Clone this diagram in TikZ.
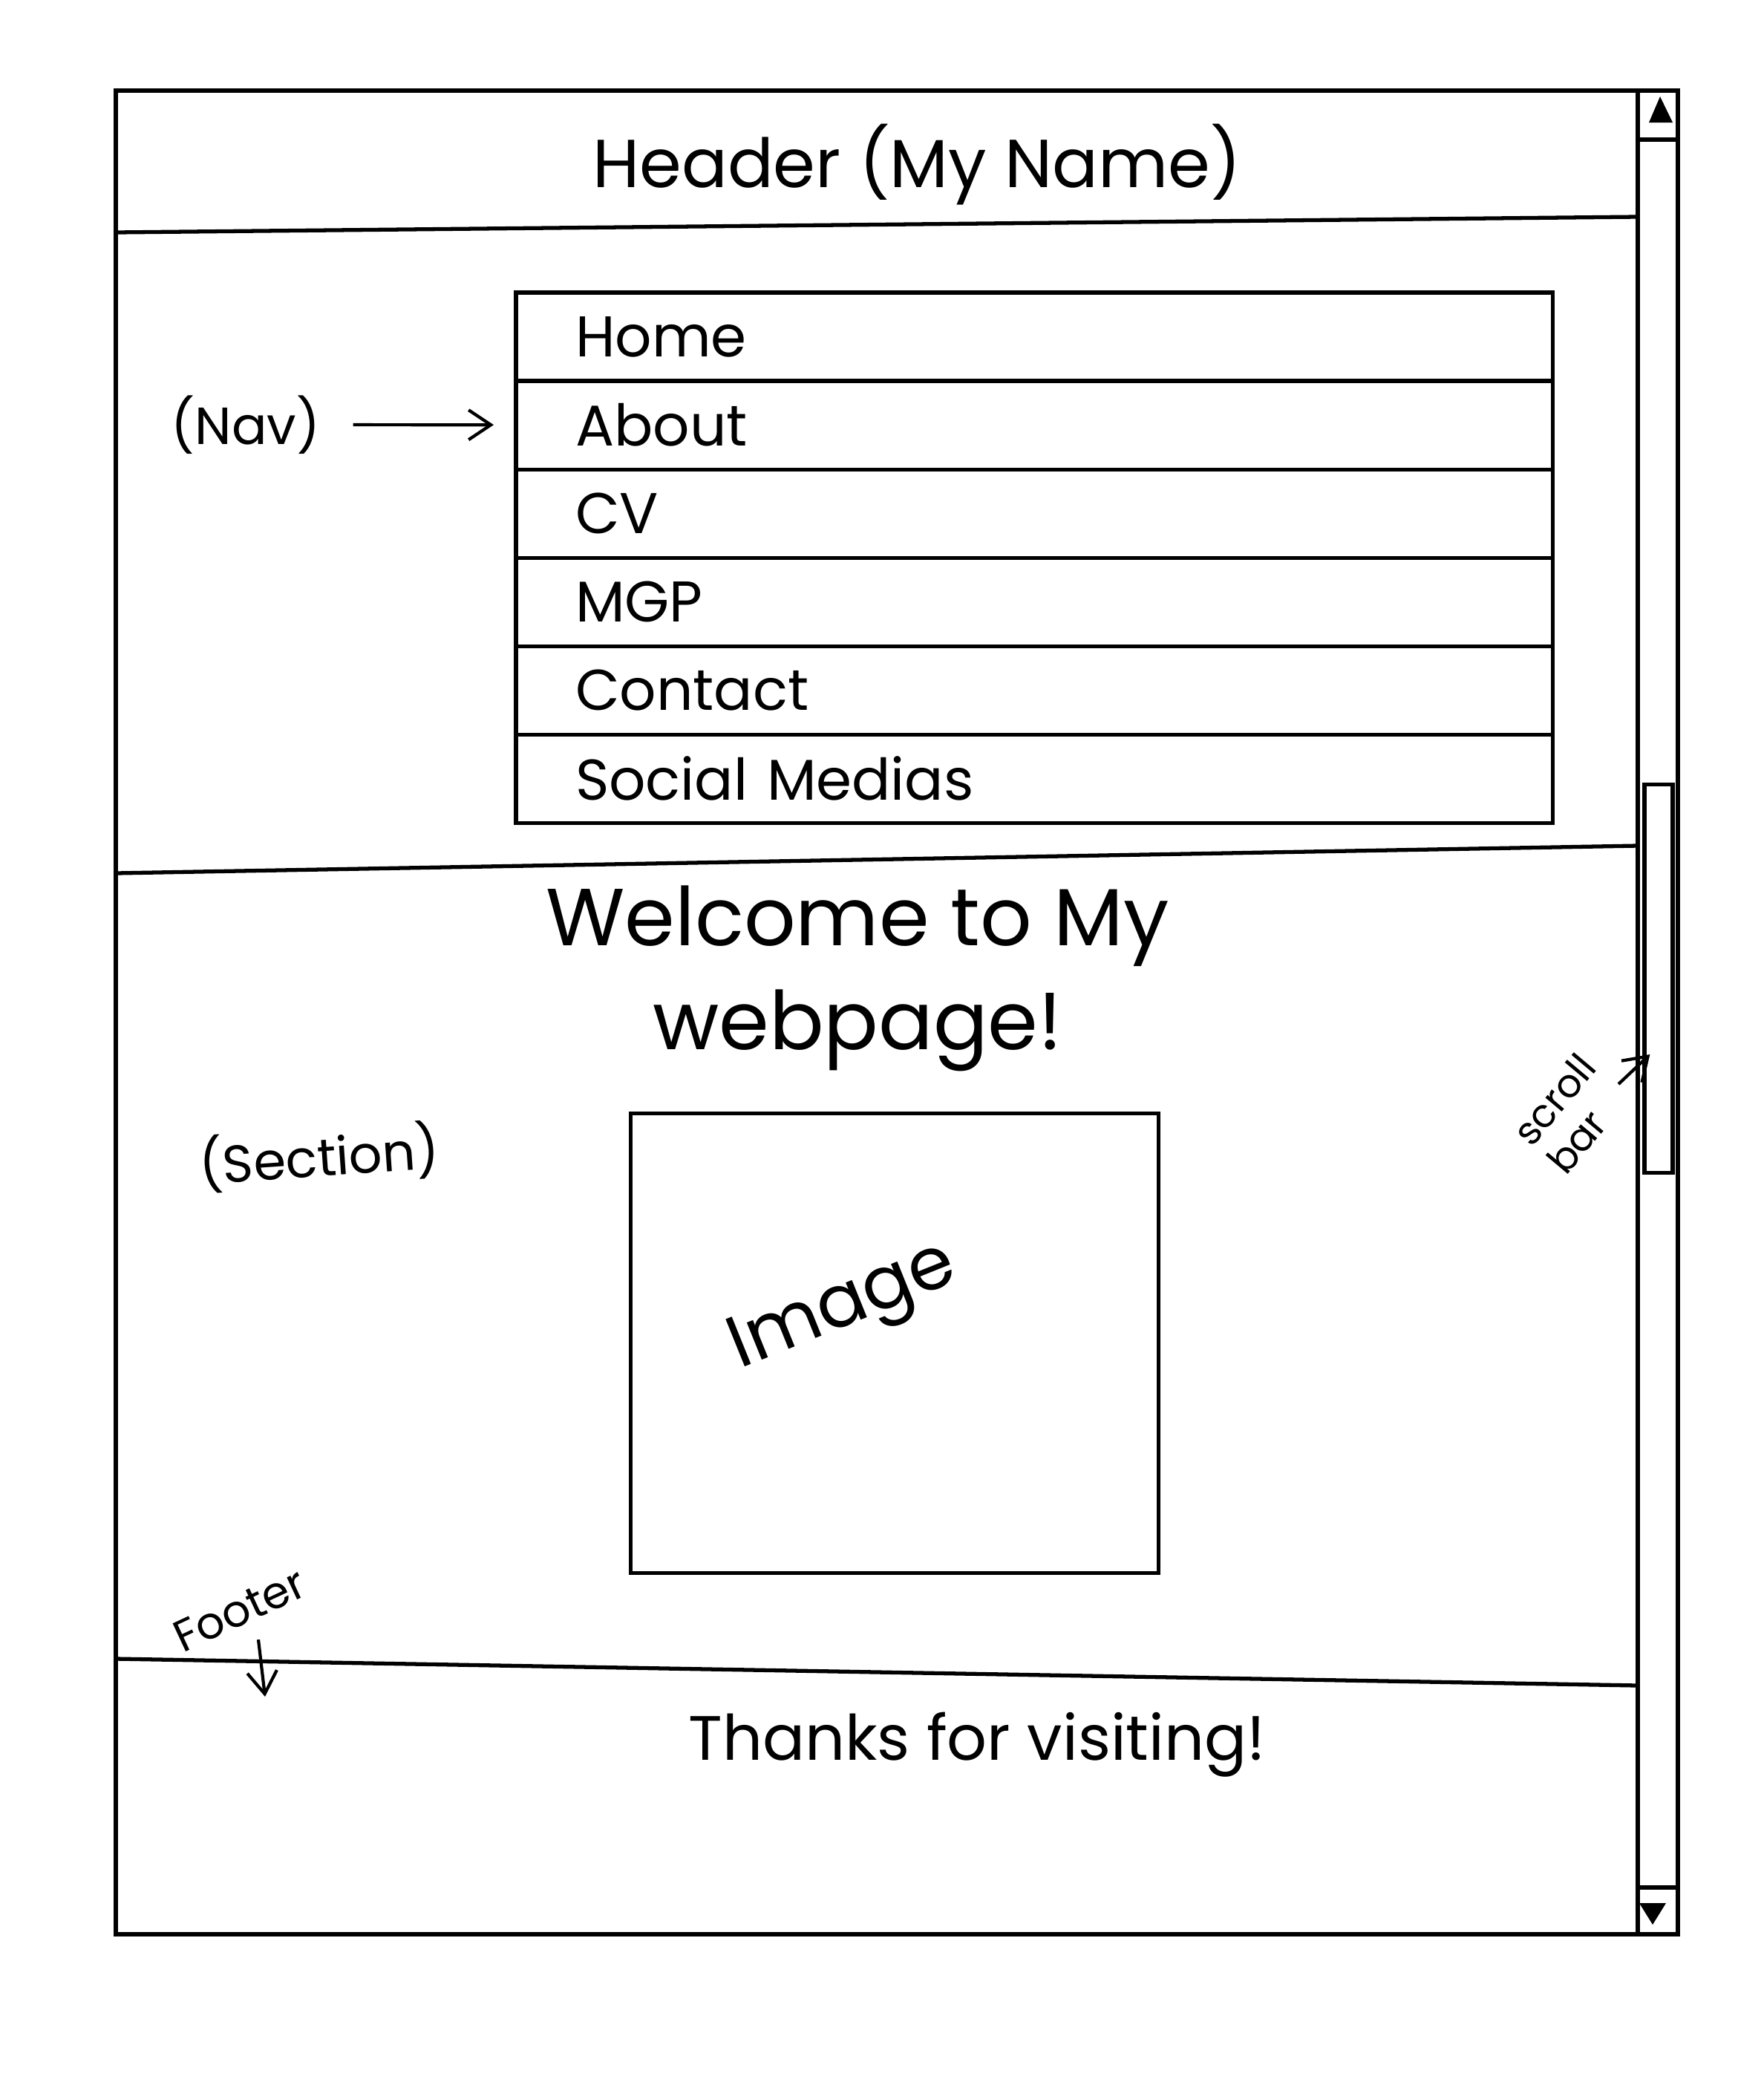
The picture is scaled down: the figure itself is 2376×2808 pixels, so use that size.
\documentclass[tikz,border=0pt]{standalone}
\usepackage{fontspec}
\setmainfont{Poppins}
\usetikzlibrary{arrows.meta,positioning,calc}

\begin{document}
\begin{tikzpicture}[x=0.01cm, y=-0.01cm, >={Straight Barb[length=3mm,width=4mm]}, line width=1.5pt,
  navitem/.style={draw, minimum height=1.19cm, text width=12.36cm, inner xsep=0.8cm, inner ysep=0pt, outer sep=0pt, align=left, font=\fontsize{22}{26}\selectfont},
  note/.style={font=\fontsize{20}{24}\selectfont},
  heading/.style={font=\fontsize{26}{38}\selectfont, align=center}]
  \useasboundingbox (0,0) rectangle (2376,2808);
  % window frame and scroll bar
  \draw (156,122) rectangle (2260,2605);
  \draw (2206,122) -- (2206,2605);
  \draw (2206,188) -- (2260,188);
  \draw (2206,2542) -- (2260,2542);
  \fill (2236,130) -- (2253,165) -- (2221,165) -- cycle;
  \fill (2208,2563) -- (2244,2563) -- (2226,2592) -- cycle;
  \node[draw, minimum width=0.38cm, minimum height=5.23cm] (thumb) at (2234,1318) {};
  % section lines
  \draw (156,313) -- (2206,292);
  \draw (156,1176) -- (2206,1139);
  \draw (156,2234) -- (2206,2270);
  \node[heading] (header) at (1235,222) {Header (My Name)};
  % nav
  \node[navitem, anchor=north west] (home) at (695,394) {Home};
  \node[navitem, below=0pt of home] (about) {About};
  \node[navitem, below=0pt of about] (cv) {CV};
  \node[navitem, below=0pt of cv] (mgp) {MGP};
  \node[navitem, below=0pt of mgp] (contact) {Contact};
  \node[navitem, below=0pt of contact] (social) {Social Medias};
  \node[note] (nav) at (331,572) {(Nav)};
  \draw[->, line width=1.2pt, shorten <=0.3cm, shorten >=0.3cm] (nav) -- (about);
  % section
  \node[heading, font=\fontsize{31}{40}\selectfont] (welcome) at (1155,1318) {Welcome to My\\webpage!};
  \node[note, rotate=4] (section) at (430,1558) {(Section)};
  \node[draw, minimum width=7.11cm, minimum height=6.18cm] (img) at (1205,1809) {};
  \node[rotate=22, font=\fontsize{28}{32}\selectfont] (imgtxt) at (1137,1764) {Image};
  % footer
  \node[rotate=25, font=\fontsize{17}{20}\selectfont] (footer) at (323,2168) {Footer};
  \coordinate (ftip) at (357,2285);
  \draw[->, line width=1.2pt] ($(footer.south)+(10,8)$) -- (ftip);
  \node[heading, font=\fontsize{24}{30}\selectfont] (thanks) at (1316,2350) {Thanks for visiting!};
  % scroll bar note
  \node[rotate=50, align=left, font=\fontsize{15}{17}\selectfont] (sbar) at (2116,1500) {scroll\\bar};
  \coordinate (sbtail) at (2180,1460);
  \draw[->, line width=1.2pt] (sbtail) -- ($(thumb.west)+(10,102)$);
\end{tikzpicture}
\end{document}
